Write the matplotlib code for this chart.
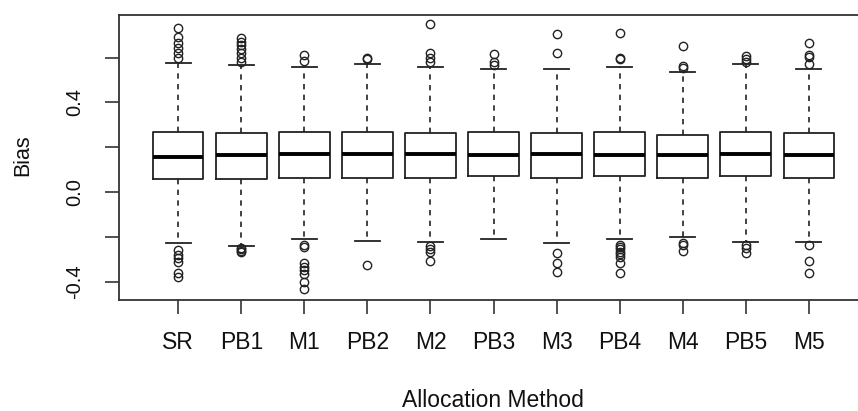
import matplotlib
matplotlib.use("Agg")
import matplotlib.pyplot as plt

plt.rcParams['font.family'] = ['Liberation Sans', 'DejaVu Sans']

methods = ["SR", "PB1", "M1", "PB2", "M2", "PB3", "M3", "PB4", "M4", "PB5", "M5"]

q1 = [0.057, 0.057, 0.064, 0.064, 0.064, 0.071, 0.064, 0.071, 0.064, 0.071, 0.064]
medians = [0.157, 0.165, 0.169, 0.169, 0.169, 0.165, 0.169, 0.165, 0.165, 0.169, 0.165]
q3 = [0.268, 0.262, 0.268, 0.268, 0.262, 0.268, 0.262, 0.268, 0.254, 0.268, 0.262]
whisker_low = [-0.229, -0.241, -0.210, -0.217, -0.224, -0.210, -0.229, -0.210, -0.202, -0.222, -0.222]
whisker_high = [0.574, 0.565, 0.556, 0.571, 0.556, 0.550, 0.550, 0.557, 0.537, 0.572, 0.550]

outliers_high = [
    [0.730, 0.693, 0.666, 0.643, 0.618, 0.596],
    [0.685, 0.670, 0.656, 0.636, 0.618, 0.596, 0.581],
    [0.611, 0.586],
    [0.598, 0.592],
    [0.748, 0.618, 0.600, 0.581],
    [0.614, 0.581, 0.566],
    [0.703, 0.618],
    [0.708, 0.598, 0.592],
    [0.651, 0.560, 0.554],
    [0.607, 0.592, 0.581],
    [0.663, 0.611, 0.603, 0.571],
]
outliers_low = [
    [-0.259, -0.281, -0.296, -0.311, -0.363, -0.380],
    [-0.248, -0.255, -0.262, -0.268],
    [-0.236, -0.244, -0.318, -0.333, -0.348, -0.367, -0.400, -0.433],
    [-0.326],
    [-0.241, -0.256, -0.266, -0.308],
    [],
    [-0.274, -0.318, -0.358],
    [-0.236, -0.244, -0.256, -0.266, -0.278, -0.289, -0.318, -0.360],
    [-0.226, -0.236, -0.262],
    [-0.236, -0.251, -0.271],
    [-0.236, -0.308, -0.363],
]

y_ticks = [-0.4, -0.2, 0.0, 0.2, 0.4, 0.6]
y_tick_labels = ["-0.4", "", "0.0", "", "0.4", ""]

stats = []
for i, name in enumerate(methods):
    stats.append(dict(label=name, q1=q1[i], med=medians[i], q3=q3[i],
                      whislo=whisker_low[i], whishi=whisker_high[i],
                      fliers=outliers_high[i] + outliers_low[i]))

W, H = 858, 411
fig = plt.figure(figsize=(W / 100, H / 100), dpi=100)
left, right, top, bottom = 119, 868, 14.7, 300
ax = fig.add_axes([left / W, 1 - bottom / H, (right - left) / W, (bottom - top) / H])

ink = "#222222"
ax.bxp(stats, positions=range(1, len(methods) + 1), widths=0.8, capwidths=0.4,
       boxprops=dict(color=ink, linewidth=1.3),
       medianprops=dict(color="black", linewidth=2.8, solid_capstyle="butt"),
       whiskerprops=dict(color=ink, linewidth=1.2, linestyle=(0, (3.2, 3.2))),
       capprops=dict(color=ink, linewidth=1.3),
       flierprops=dict(marker="o", markerfacecolor="none", markeredgecolor=ink,
                       markersize=6.0, markeredgewidth=1.0))

ax.set_xlim(0.06, 11.94)
ax.set_ylim(-0.482, 0.791)
ax.set_xticks(range(1, len(methods) + 1))
ax.set_xticklabels(methods)
ax.set_yticks(y_ticks)
ax.set_yticklabels(y_tick_labels, rotation=90, va="center")

for s in ax.spines.values():
    s.set_linewidth(1.3)
    s.set_color("#333333")

text_color = "#111111"
ax.tick_params(axis="both", length=10, width=1.2, color="#333333", labelcolor=text_color)
ax.tick_params(axis="x", labelsize=16.5, pad=12)
ax.tick_params(axis="y", labelsize=14.5, pad=15)

fig.text(493 / W, 1 - 400 / H, "Allocation Method", ha="center", va="center",
         fontsize=16.5, color=text_color)
fig.text(23 / W, 1 - 155 / H, "Bias", ha="center", va="center", rotation=90,
         fontsize=15.5, color=text_color)

fig.savefig("out.png", dpi=100)
